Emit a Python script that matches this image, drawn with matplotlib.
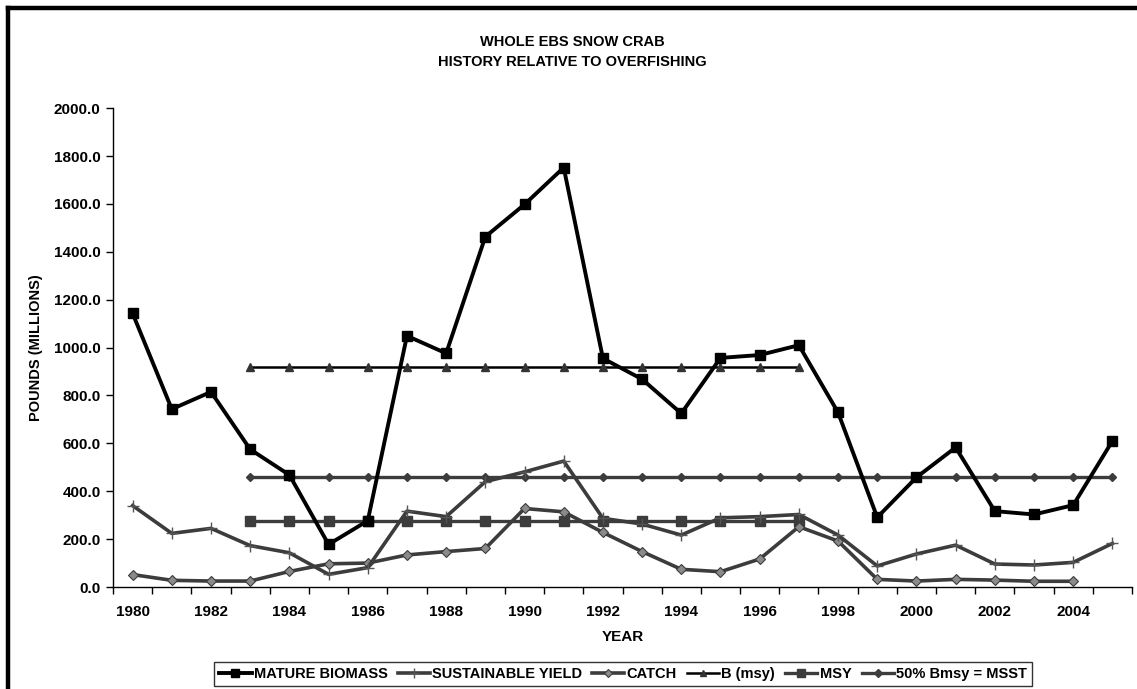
import matplotlib
matplotlib.use("Agg")
import matplotlib.pyplot as plt
from matplotlib.lines import Line2D
import numpy as np

plt.rcParams["font.family"] = ["Liberation Sans", "DejaVu Sans"]
plt.rcParams["font.weight"] = "bold"

years = list(range(1980, 2006))
mature_biomass = [1143, 743, 815, 575, 468, 178, 277, 1049, 976, 1463, 1598, 1752, 955,
                  868, 725, 957, 969, 1010, 729, 291, 458, 583, 317, 303, 342, 610]
sustainable_yield = [340, 224, 245, 173, 143, 53, 81, 317, 294, 440, 481, 526, 287,
                     263, 217, 289, 294, 303, 217, 88, 138, 175, 96, 92, 103, 182]
catch_years = list(range(1980, 2005))
catch = [52, 28, 25, 25, 65, 97, 100, 134, 148, 161, 328, 314, 228,
         148, 74, 64, 117, 252, 192, 32, 25, 32, 29, 24, 24]
ref_years = list(range(1983, 1998))
b_msy = [920] * len(ref_years)
msy = [276] * len(ref_years)
msst_years = list(range(1983, 2006))
msst = [459] * len(msst_years)

DARK = "#3c3c3c"

fig = plt.figure(figsize=(11.37, 6.89), dpi=100)
ax = fig.add_axes([0.0994, 0.148, 0.8962, 0.695])

ax.plot(msst_years, msst, color=DARK, lw=2.4, marker="D", ms=4.5,
        mfc=DARK, mec=DARK, label="50% Bmsy = MSST", zorder=2)
ax.plot(ref_years, msy, color=DARK, lw=2.4, marker="s", ms=7,
        mfc=DARK, mec=DARK, label="MSY", zorder=2)
ax.plot(ref_years, b_msy, color="black", lw=1.8, marker="^", ms=6,
        mfc="#333333", mec="#333333", label="B (msy)", zorder=3)
ax.plot(catch_years, catch, color=DARK, lw=2.6, marker="D", ms=5.5,
        mfc="#8a8a8a", mec=DARK, mew=0.8, label="CATCH", zorder=3)
ax.plot(years, sustainable_yield, color=DARK, lw=2.6, marker="+", ms=9,
        mew=1.0, mec="#555555", label="SUSTAINABLE YIELD", zorder=3)
ax.plot(years, mature_biomass, color="black", lw=2.8, marker="s", ms=7,
        mfc="black", mec="black", label="MATURE BIOMASS", zorder=4)

ax.set_xlim(1979.5, 2005.5)
ax.set_ylim(0, 2000)
ax.set_yticks(np.arange(0, 2001, 200))
ax.set_yticklabels([f"{v:.1f}" for v in np.arange(0, 2001, 200)])
ax.set_xticks(np.arange(1979.5, 2006, 1))
ax.set_xticklabels([])
ax.set_xticks(np.arange(1980, 2005, 2), minor=True)
ax.set_xticklabels([str(y) for y in range(1980, 2005, 2)], minor=True)
ax.tick_params(axis="x", which="major", direction="out", length=5, width=1)
ax.tick_params(axis="x", which="minor", length=0, pad=13, labelsize=11)
ax.tick_params(axis="y", direction="out", length=5, width=1, labelsize=11, pad=4)
for lab in ax.get_xticklabels(minor=True) + ax.get_yticklabels():
    lab.set_fontweight("bold")

ax.spines["top"].set_visible(False)
ax.spines["right"].set_visible(False)
ax.spines["left"].set_linewidth(1)
ax.spines["bottom"].set_linewidth(1)

ax.set_xlabel("YEAR", fontsize=11, fontweight="bold", labelpad=8)
ax.set_ylabel("POUNDS (MILLIONS)", fontsize=10.5, fontweight="bold", labelpad=8)

fig.text(0.503, 1 - 52 / 689, "WHOLE EBS SNOW CRAB\nHISTORY RELATIVE TO OVERFISHING",
         ha="center", va="center", fontsize=10.5, fontweight="bold", linespacing=1.6)

handles, labels = ax.get_legend_handles_labels()
order = ["MATURE BIOMASS", "SUSTAINABLE YIELD", "CATCH", "B (msy)", "MSY", "50% Bmsy = MSST"]
hmap = dict(zip(labels, handles))
leg = fig.legend([hmap[l] for l in order], order, loc="upper center",
                 bbox_to_anchor=(0.548, 0.05), ncol=6, frameon=True, fancybox=False,
                 edgecolor="black", fontsize=10.5, handlelength=2.2, handletextpad=0.15,
                 columnspacing=0.7, borderpad=0.35, markerscale=0.8)
leg.get_frame().set_linewidth(1.0)
for t in leg.get_texts():
    t.set_fontweight("bold")

# chart border (left and top)
fig.add_artist(Line2D([8 / 1137, 8 / 1137], [-0.05, 1 - 8 / 689], color="black", lw=3.2,
                      transform=fig.transFigure, solid_capstyle="projecting"))
fig.add_artist(Line2D([8 / 1137, 1.05], [1 - 8 / 689, 1 - 8 / 689], color="black", lw=3.2,
                      transform=fig.transFigure, solid_capstyle="projecting"))

fig.savefig("out.png", dpi=100)
